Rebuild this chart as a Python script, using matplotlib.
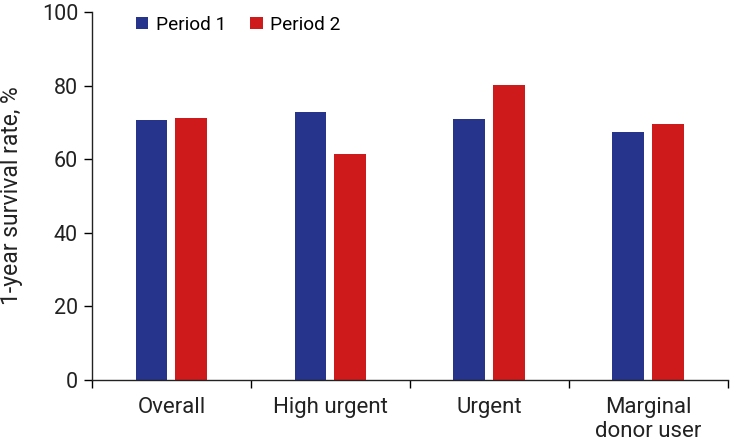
import numpy as np
import matplotlib
matplotlib.use("Agg")
import matplotlib.pyplot as plt

plt.rcParams['font.family'] = ['Roboto', 'DejaVu Sans']

categories = ["Overall", "High urgent", "Urgent", "Marginal\ndonor user"]
period1 = [70.6, 72.7, 70.9, 67.3]
period2 = [71.2, 61.4, 80.3, 69.5]
series_names = ["Period 1", "Period 2"]
blue = "#27348b"
red = "#cf1a1b"
textc = "#222222"

fig = plt.figure(figsize=(7.3, 4.45), dpi=100)
ax = fig.add_axes([0.126, 0.146, 0.8706, 0.827])

x = np.arange(len(categories))
w = 0.2
ax.bar(x - 0.125, period1, width=w, color=blue, label=series_names[0])
ax.bar(x + 0.125, period2, width=w, color=red, label=series_names[1])

ax.set_xlim(-0.5, 3.5)
ax.set_ylim(0, 100)
ax.set_yticks([0, 20, 40, 60, 80, 100])
ax.set_xticks(x)
ax.set_xticklabels(categories, fontsize=16, color=textc, linespacing=1.2)
ax.set_xticks(np.arange(-0.5, 3.6, 1.0), minor=True)
ax.tick_params(axis="x", which="major", length=0, pad=12)
ax.tick_params(axis="x", which="minor", length=6, width=1, direction="out")
ax.tick_params(axis="y", length=6, width=1, labelsize=15.5, labelcolor=textc, pad=4)
ax.set_ylabel("1-year survival rate, %", fontsize=16.5, color=textc)
ax.yaxis.set_label_coords(-0.108, 0.5)

for s in ["top", "right"]:
    ax.spines[s].set_visible(False)
for s in ["left", "bottom"]:
    ax.spines[s].set_linewidth(1)
    ax.spines[s].set_color(textc)

ax.legend(loc="upper left", bbox_to_anchor=(0.069, 0.99), ncol=2, frameon=False,
          fontsize=13.7, handlelength=0.66, handleheight=0.66, handletextpad=0.4,
          columnspacing=1.25, borderpad=0, borderaxespad=0)

fig.savefig("out.png", dpi=100)
